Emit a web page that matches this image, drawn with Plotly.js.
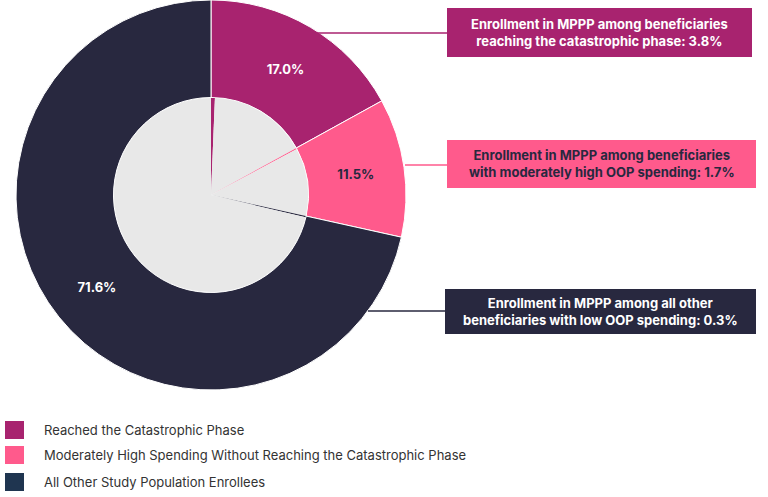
<!DOCTYPE html>
<html><head><meta charset="utf-8">
<script src="https://cdn.plot.ly/plotly-3.0.1.min.js"></script>
<style>body{margin:0;background:#fff}#c{width:768px;height:497px}</style>
</head><body><div id="c"></div>
<script>
const categories = ["Reached the Catastrophic Phase","Moderately High Spending Without Reaching the Catastrophic Phase","All Other Study Population Enrollees"];
const shares = [17.0, 11.5, 71.6];
const mpppRates = [3.8, 1.7, 0.3];
const calloutTexts = ["Enrollment in MPPP among beneficiaries<br>reaching the catastrophic phase: 3.8%","Enrollment in MPPP among beneficiaries<br>with moderately high OOP spending: 1.7%","Enrollment in MPPP among all other<br>beneficiaries with low OOP spending: 0.3%"];
const colors = ["#a8236f","#ff5a8c","#28283f"];
const legendColors = ["#a8236f","#ff5a8c","#1f3550"];
const gray = "#e8e8e8";
const W=768,H=497;
const px = x=>x/W, py = y=>1-y/H;

// inner pie: enrolled sliver then remainder, per category
const innerVals=[], innerCols=[], innerLabels=[];
shares.forEach((s,i)=>{
  const e = s*mpppRates[i]/100;
  innerVals.push(e, s-e); innerCols.push(colors[i], gray);
  innerLabels.push("e"+i,"r"+i);
});

const data=[
 {type:"pie", values:shares, labels:categories, sort:false, direction:"clockwise", rotation:0,
  hole:0.5, marker:{colors:colors, line:{color:"#fff",width:1}},
  texttemplate:shares.map(v=>v.toFixed(1)+"%"), textinfo:"text", textposition:"inside",
  insidetextorientation:"horizontal",
  textfont:{family:"Inter", size:13, color:["#fff","#28283f","#fff"], weight:700},
  domain:{x:[px(16),px(406)], y:[py(390),py(0)]}, showlegend:false, hoverinfo:"skip"},
 {type:"pie", values:innerVals, labels:innerLabels, sort:false, direction:"clockwise", rotation:0,
  marker:{colors:innerCols, line:{width:0}}, textinfo:"none",
  domain:{x:[px(114),px(308)], y:[py(292),py(98)]}, showlegend:false, hoverinfo:"skip"}
];

const boxes=[[447,8,752,57,33,316],[447,140,756,188,165,405],[445,289,756,334,311,368]];
const shapes=[], annotations=[];
boxes.forEach((b,i)=>{
  shapes.push({type:"rect",xref:"paper",yref:"paper",x0:px(b[0]),x1:px(b[2]),y0:py(b[3]),y1:py(b[1]),fillcolor:colors[i],line:{width:0}});
  shapes.push({type:"line",xref:"paper",yref:"paper",x0:px(b[5]),x1:px(b[0]),y0:py(b[4]),y1:py(b[4]),line:{color:colors[i],width:1.5}});
  annotations.push({xref:"paper",yref:"paper",x:px((b[0]+b[2])/2),y:py((b[1]+b[3])/2),text:calloutTexts[i],showarrow:false,
    font:{family:"Inter",size:13,color:i==1?"#28283f":"#fff",weight:700},align:"center",xanchor:"center",yanchor:"middle"});
});
const legY=[430,455,482];
categories.forEach((c,i)=>{
  shapes.push({type:"rect",xref:"paper",yref:"paper",x0:px(5),x1:px(24),y0:py(legY[i]+9),y1:py(legY[i]-9),fillcolor:legendColors[i],line:{width:0}});
  annotations.push({xref:"paper",yref:"paper",x:px(42),y:py(legY[i]),text:c,showarrow:false,xanchor:"left",yanchor:"middle",
    font:{family:"Inter",size:13,color:"#333"}});
});

Plotly.newPlot("c",data,{width:W,height:H,margin:{l:0,r:0,t:0,b:0},paper_bgcolor:"#fff",shapes,annotations},{displayModeBar:false,staticPlot:true});
</script></body></html>
